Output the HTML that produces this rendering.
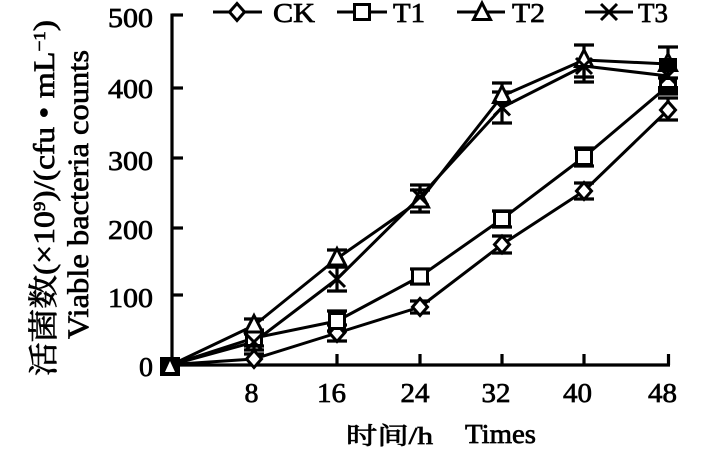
<!DOCTYPE html>
<html><head><meta charset="utf-8"><style>
html,body{margin:0;padding:0;background:#fff;}
svg{display:block;}
text{font-family:"Liberation Serif","Noto Serif CJK SC",serif;fill:#000;stroke:#000;stroke-width:0.7;}
</style></head><body>
<svg width="725" height="451" viewBox="0 0 725 451" xmlns="http://www.w3.org/2000/svg">
<defs>
<path id="dm" d="M0,-8.5 L7.5,0 L0,8.5 L-7.5,0 Z" fill="#fff" stroke="#000" stroke-width="3"/>
<rect id="sq" x="-7.5" y="-7.5" width="15" height="15" fill="#fff" stroke="#000" stroke-width="3"/>
<path id="tr" d="M0,-10 L8.5,6.5 L-8.5,6.5 Z" fill="#fff" stroke="#000" stroke-width="3"/>
<path id="xx" d="M-8,-8 L8,8 M-8,8 L8,-8" fill="none" stroke="#000" stroke-width="3"/>
</defs>

<!-- axes -->
<g stroke="#000" stroke-width="3.2" fill="none">
<line x1="172" y1="13.5" x2="172" y2="366"/>
<line x1="170.5" y1="365" x2="670" y2="365"/>
<line x1="172" y1="15" x2="183" y2="15"/>
<line x1="172" y1="88" x2="183" y2="88"/>
<line x1="172" y1="158" x2="183" y2="158"/>
<line x1="172" y1="228" x2="183" y2="228"/>
<line x1="172" y1="295" x2="183" y2="295"/>
<line x1="254" y1="365" x2="254" y2="354"/>
<line x1="337" y1="365" x2="337" y2="354"/>
<line x1="420" y1="365" x2="420" y2="354"/>
<line x1="502" y1="365" x2="502" y2="354"/>
<line x1="584" y1="365" x2="584" y2="354"/>
<line x1="668.5" y1="365" x2="668.5" y2="354"/>
</g>

<!-- y tick labels -->
<g font-size="27" text-anchor="end">
<text x="153" y="27" textLength="45" lengthAdjust="spacingAndGlyphs">500</text>
<text x="153" y="98" textLength="45" lengthAdjust="spacingAndGlyphs">400</text>
<text x="153" y="170" textLength="45" lengthAdjust="spacingAndGlyphs">300</text>
<text x="153" y="239" textLength="45" lengthAdjust="spacingAndGlyphs">200</text>
<text x="153" y="307" textLength="45" lengthAdjust="spacingAndGlyphs">100</text>
<text x="153" y="376" textLength="14" lengthAdjust="spacingAndGlyphs">0</text>
</g>
<!-- x tick labels -->
<g font-size="27" text-anchor="middle">
<text x="251.5" y="402" textLength="14" lengthAdjust="spacingAndGlyphs">8</text>
<text x="331.5" y="402" textLength="29" lengthAdjust="spacingAndGlyphs">16</text>
<text x="415" y="402" textLength="29" lengthAdjust="spacingAndGlyphs">24</text>
<text x="496" y="402" textLength="29" lengthAdjust="spacingAndGlyphs">32</text>
<text x="577.5" y="402" textLength="29" lengthAdjust="spacingAndGlyphs">40</text>
<text x="662.5" y="402" textLength="29" lengthAdjust="spacingAndGlyphs">48</text>
</g>

<!-- axis titles -->
<text x="346" y="444" font-size="24" textLength="87" lengthAdjust="spacingAndGlyphs">时间/h</text>
<text x="465" y="443" font-size="27" textLength="71" lengthAdjust="spacingAndGlyphs">Times</text>

<text transform="translate(54,376) rotate(-90)" font-size="30" textLength="356" lengthAdjust="spacingAndGlyphs">活菌数(×10<tspan baseline-shift="super" font-size="17">9</tspan>)/(cfu • mL<tspan baseline-shift="super" font-size="17">−1</tspan>)</text>
<text transform="translate(88,339) rotate(-90)" font-size="30" textLength="289" lengthAdjust="spacingAndGlyphs">Viable bacteria counts</text>

<!-- series lines -->
<g stroke="#000" stroke-width="3" fill="none" stroke-linejoin="round">
<polyline points="172,364.5 254,359 337,333 420,307 502,244.5 584,191 668,110"/>
<polyline points="172,364.5 254,338 337,321 420,276.5 502,219 584,157 668,86"/>
<polyline points="172,364.5 254,325.5 337,258.5 420,200.5 502,96 584,60 668,64"/>
<polyline points="172,364.5 254,342 337,279 420,197 502,107.5 584,66 668,76"/>
</g>

<!-- error bars -->
<g stroke="#000" stroke-width="3.2" fill="none">
<path d="M254,354 V364 M244,354 H264 M337,325 V341 M327,325 H347 M327,341 H347 M420,301 V313 M410,301 H430 M410,313 H430 M502,236 V253 M492,236 H512 M492,253 H512 M584,183 V199 M574,183 H594 M574,199 H594 M668,98 V120 M658,98 H678 M658,120 H678"/>
<path d="M254,330 V346 M244,330 H264 M244,346 H264 M337,311 V331 M327,311 H347 M327,331 H347 M420,269 V284 M410,269 H430 M410,284 H430 M502,211 V227 M492,211 H512 M492,227 H512 M584,148 V166 M574,148 H594 M574,166 H594 M668,78 V94 M658,78 H678 M658,94 H678"/>
<path d="M254,319 V332 M244,319 H264 M337,250 V267 M327,250 H347 M327,267 H347 M420,190 V211 M410,190 H430 M502,83 V110 M492,83 H512 M584,45 V77 M574,45 H594 M574,77 H594 M668,47 V82 M658,47 H678"/>
<path d="M254,334 V350 M244,334 H264 M244,350 H264 M337,267 V291 M327,267 H347 M327,291 H347 M420,185 V212 M410,185 H430 M410,212 H430 M502,92 V123 M492,92 H512 M492,123 H512 M584,52 V82 M574,82 H594 M668,64 V90 M658,90 H678"/>
</g>

<!-- markers -->
<use href="#dm" x="254" y="359"/><use href="#dm" x="337" y="333"/><use href="#dm" x="420" y="307"/><use href="#dm" x="502" y="244.5"/><use href="#dm" x="584" y="191"/><use href="#dm" x="668" y="110"/>
<use href="#sq" x="254" y="338"/><use href="#sq" x="337" y="321"/><use href="#sq" x="420" y="276.5"/><use href="#sq" x="502" y="219"/><use href="#sq" x="584" y="157"/><use href="#sq" x="668" y="86"/>
<use href="#tr" x="254" y="325.5"/><use href="#tr" x="337" y="258.5"/><use href="#tr" x="420" y="200.5"/><use href="#tr" x="502" y="96"/><use href="#tr" x="584" y="60"/><use href="#tr" x="668" y="64"/>
<use href="#xx" x="254" y="342"/><use href="#xx" x="337" y="279"/><use href="#xx" x="420" y="197"/><use href="#xx" x="502" y="107.5"/><use href="#xx" x="584" y="66"/><use href="#xx" x="668" y="76"/>
<!-- dark overlapping blocks -->
<rect x="160" y="357" width="20" height="19" fill="#000"/>
<path d="M170,361 L175,372 L165,372 Z" fill="#fff"/>
<rect x="659" y="58" width="18" height="12" fill="#000"/>
<rect x="658" y="86" width="20" height="9" fill="#000"/>

<!-- legend -->
<g stroke="#000" stroke-width="3">
<line x1="213" y1="12" x2="262" y2="12"/>
<line x1="337" y1="12" x2="387" y2="12"/>
<line x1="457" y1="12" x2="505" y2="12"/>
<line x1="585" y1="12" x2="633" y2="12"/>
</g>
<use href="#dm" x="237" y="12"/>
<use href="#sq" x="362" y="12"/>
<use href="#tr" x="482" y="13"/>
<use href="#xx" x="609" y="12"/>
<g font-size="27">
<text x="273" y="22" textLength="42" lengthAdjust="spacingAndGlyphs">CK</text>
<text x="393" y="22" textLength="32" lengthAdjust="spacingAndGlyphs">T1</text>
<text x="512" y="22" textLength="33" lengthAdjust="spacingAndGlyphs">T2</text>
<text x="638" y="22" textLength="30" lengthAdjust="spacingAndGlyphs">T3</text>
</g>
</svg>
</body></html>
